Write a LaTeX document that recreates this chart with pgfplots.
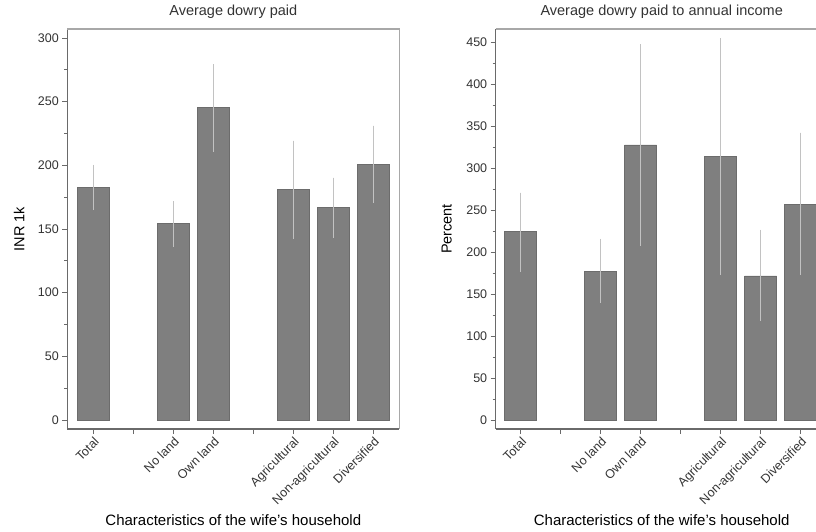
\documentclass[border=0pt]{standalone}
\usepackage{fontspec}
\setmainfont{Liberation Sans}
\usepackage{pgfplots}
\pgfplotsset{compat=1.18}
\usepackage{pgfplotstable}

\definecolor{barfill}{HTML}{7F7F7F}
\definecolor{baredge}{HTML}{6C6C6C}
\definecolor{errgray}{HTML}{C2C2C2}
\definecolor{axisdark}{HTML}{6A6A6A}
\definecolor{axislight}{HTML}{A8A8A8}
\definecolor{txt}{HTML}{333333}

% mean, distance to upper and lower bound of the interval
\pgfplotstableread{
x   val    up     lo
0   182.5  17.8   17.5
2   154.2  17.8   18.2
3   245.3  34.1   34.5
5   181.2  38.2   39.2
6   166.8  23.5   23.6
7   200.8  30.4   30.6
}\dowrypaid

\pgfplotstableread{
x   val    up     lo
0   224.4  46.4   47.7
2   176.7  39.0   37.7
3   327.7  120.3  120.0
5   314.5  140.3  141.7
6   171.6  54.8   53.3
7   256.5  85.8   83.7
}\dowryratio

\pgfplotsset{
  dowrypanel/.style={
    scale only axis,
    width=332pt, height=400pt,
    axis lines*=left,
    axis line style={draw=axisdark, line width=1.1pt},
    tick align=outside,
    tick style={draw=axisdark, line width=0.9pt},
    major tick length=5pt,
    minor tick length=3pt,
    ybar, bar width=0.8,
    xtick={0,...,7},
    xticklabels={Total,,No land,Own land,,Agricultural,Non-agricultural,Diversified},
    x tick label style={rotate=45, anchor=north east, inner sep=1.5pt},
    minor y tick num=1,
    ytick distance=50,
    /pgf/number format/assume math mode=true,
    tick label style={font=\fontsize{12.5}{14}\selectfont, text=txt},
    title style={font=\fontsize{14.5}{17}\selectfont, text=txt, at={(axis description cs:0.5,1.0275)}, anchor=center},
    xlabel style={font=\fontsize{15}{18}\selectfont, text=black, at={(axis description cs:0.5,-0.2275)}, anchor=center},
    ylabel style={font=\fontsize{14.5}{17}\selectfont, text=black, rotate=0, anchor=center},
    xlabel={Characteristics of the wife's household},
    clip=false,
  },
  dowrybars/.style={
    fill=barfill, draw=baredge, line width=0.8pt,
    error bars/.cd, y dir=both, y explicit,
    error mark=none,
    error bar style={draw=errgray, line width=1.5pt},
  },
}

\begin{document}
\begin{tikzpicture}
% left panel: dowry in thousand rupees
\begin{axis}[dowrypanel,
  at={(67.3pt,103pt)}, anchor=south west,
  xmin=-0.65, xmax=7.65,
  ymin=-7.07, ymax=307.1,
  title={Average dowry paid},
  ylabel={INR 1k},
  ylabel style={at={(axis description cs:-0.145,0.5)}},
]
\addplot[dowrybars] table[x=x, y=val, y error plus=up, y error minus=lo] {\dowrypaid};
\draw[axislight, line width=1.1pt] (rel axis cs:0,1) -- (rel axis cs:1,1) -- (rel axis cs:1,0);
\end{axis}

% right panel: dowry relative to annual income
\begin{axis}[dowrypanel,
  at={(495.7pt,103pt)}, anchor=south west,
  xmin=-0.625, xmax=7.675,
  ymin=-10.72, ymax=465.9,
  title={Average dowry paid to annual income},
  ylabel={Percent},
  ylabel style={at={(axis description cs:-0.1476,0.5)}},
]
\addplot[dowrybars] table[x=x, y=val, y error plus=up, y error minus=lo] {\dowryratio};
\draw[axislight, line width=1.1pt] (rel axis cs:0,1) -- (rel axis cs:1,1) -- (rel axis cs:1,0);
\end{axis}

\pgfresetboundingbox
\path (0pt,0pt) rectangle (816pt,532pt);
\end{tikzpicture}
\end{document}
